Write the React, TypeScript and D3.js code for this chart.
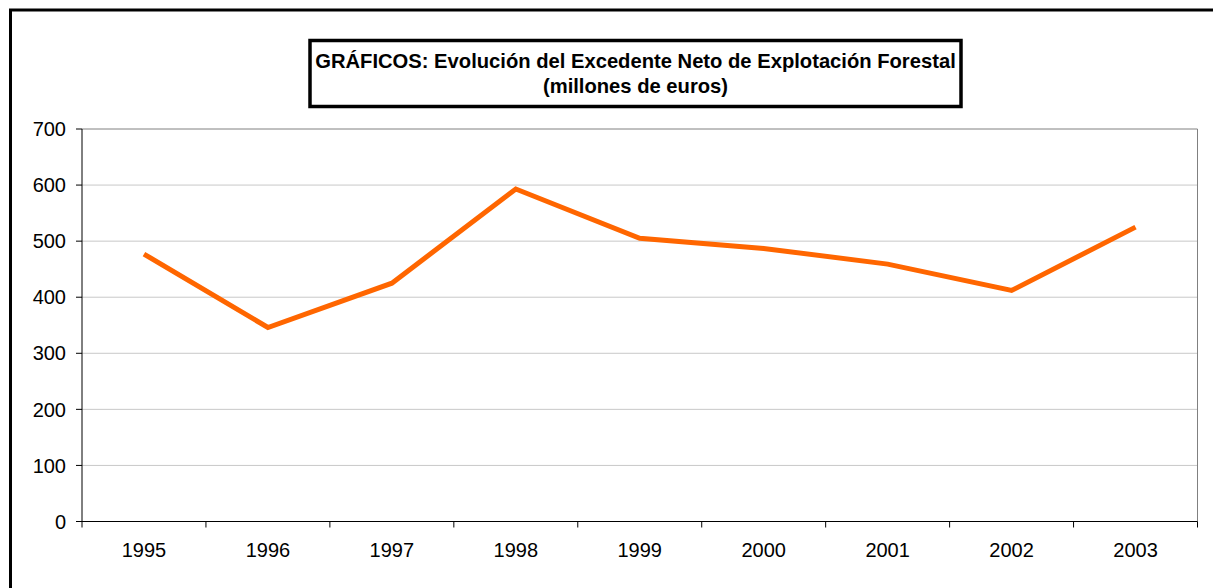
import React from "react";
import * as d3 from "d3";

const years = ["1995", "1996", "1997", "1998", "1999", "2000", "2001", "2002", "2003"];
const values = [477, 346, 425, 593, 505, 487, 459, 412, 525];
const yTicks = [0, 100, 200, 300, 400, 500, 600, 700];
const titleLines = ["GRÁFICOS: Evolución del Excedente Neto de Explotación Forestal", "(millones de euros)"];

export default function App() {
  const W = 1213, H = 588;
  const left = 82, right = 1197.5, top = 129, bottom = 521.5;
  const x = d3.scaleBand<string>().domain(years).range([left, right]);
  const y = d3.scaleLinear().domain([0, 700]).range([bottom, top]);
  const line = d3.line<number>()
    .x((_, i) => (x(years[i]) as number) + x.bandwidth() / 2)
    .y((d) => y(d));
  const font = "'Liberation Sans', Arial, sans-serif";
  const bounds = x.domain().map((d) => x(d) as number).concat([right]);
  return (
    <div style={{ position: "absolute", left: 0, top: 0 }}>
      <svg width={W} height={H} style={{ display: "block" }}>
        <rect x={0} y={0} width={W} height={H} fill="#fff" />
        <rect x={10.5} y={10} width={W + 20} height={H + 20} fill="none" stroke="#000" strokeWidth={3} />
        {yTicks.map((t) => (
          <g key={t}>
            {t > 0 && (
              <line x1={left} x2={right} y1={y(t)} y2={y(t)} stroke={t === 700 ? "#808080" : "#c8c8c8"} strokeWidth={1} />
            )}
            <line x1={left - 6} x2={left} y1={y(t)} y2={y(t)} stroke="#000" />
            <text x={66} y={y(t)} dy="0.36em" textAnchor="end" fontFamily={font} fontSize={20}>{t}</text>
          </g>
        ))}
        <line x1={right} x2={right} y1={top} y2={bottom} stroke="#808080" />
        <line x1={left} x2={left} y1={top} y2={bottom} stroke="#000" />
        <line x1={left} x2={right} y1={bottom} y2={bottom} stroke="#000" />
        {bounds.map((b, i) => (
          <line key={i} x1={b} x2={b} y1={bottom} y2={bottom + 6} stroke="#000" />
        ))}
        {years.map((yr) => (
          <text key={yr} x={(x(yr) as number) + x.bandwidth() / 2} y={557} textAnchor="middle" fontFamily={font} fontSize={20}>{yr}</text>
        ))}
        <path d={line(values) as string} fill="none" stroke="#FF6600" strokeWidth={5} strokeLinejoin="miter" />
        <rect x={310} y={40.5} width={651} height={66} fill="#fff" stroke="#000" strokeWidth={3.5} />
        {titleLines.map((t, i) => (
          <text key={i} x={635.5} y={68 + i * 25} textAnchor="middle" fontFamily={font} fontWeight="bold" fontSize={20.2}>{t}</text>
        ))}
      </svg>
    </div>
  );
}
